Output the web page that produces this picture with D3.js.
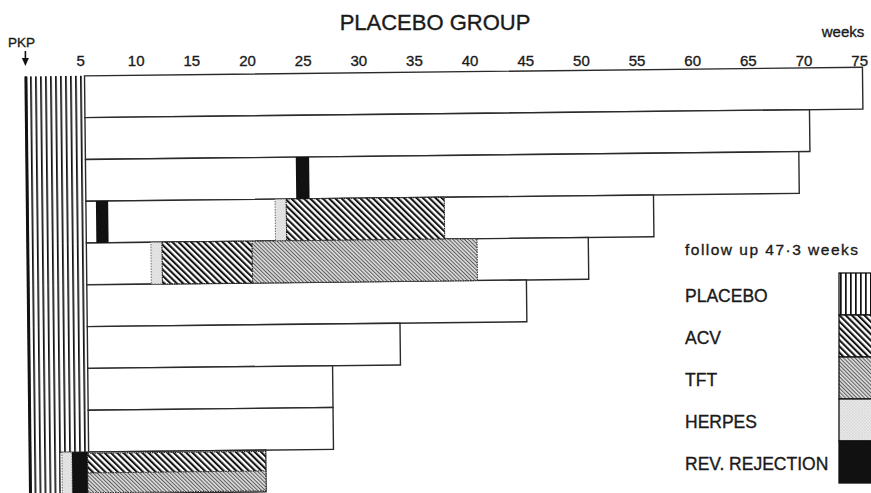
<!DOCTYPE html>
<html><head><meta charset="utf-8">
<script src="https://cdn.jsdelivr.net/npm/d3@7"></script>
<style>
body{margin:0;background:#fff}
svg{display:block}
text{font-family:"Liberation Sans",Arial,Helvetica,sans-serif;fill:#1a1a1a;stroke:#1a1a1a;stroke-width:0.35px}
</style>
</head><body><div id="chart"></div>
<script>
// ---------- data ----------
const title = "PLACEBO GROUP";
const axisUnit = "weeks";
const startLabel = "PKP";
const followUpNote = "follow up 47·3 weeks";
const patients = ["1","2","3","4","5","6","7","8","9","10"];
const followUp   = [75.3, 70.5, 69.5, 56.4, 50.5, 44.9, 33.5, 27.4, 27.4, 21.3];
const placeboEnd = [5.4, 5.4, 5.4, 5.4, 5.4, 5.4, 5.4, 5.4, 5.4, 2.8];
const weekTicks = [5,10,15,20,25,30,35,40,45,50,55,60,65,70,75];
// episodes: [patient, start week, end week, part of row]
const herpesEpisodes    = [["4",22.4,23.4,"full"],["5",11.2,12.2,"full"],["10",3.0,3.9,"full"]];
const acvEpisodes       = [["4",23.4,37.6,"full"],["5",12.2,20.3,"full"],["10",5.3,21.3,"top"]];
const tftEpisodes       = [["5",20.3,40.5,"full"],["10",5.3,21.3,"bottom"]];
const rejectionEpisodes = [["3",24.3,25.5,"full"],["4",6.3,7.4,"full"],["10",3.9,5.3,"full"]];
const legendLabels = ["PLACEBO","ACV","TFT","HERPES","REV. REJECTION"];
const legendKeys   = ["placebo","acv","tft","herpes","rejection"];

// ---------- setup ----------
const W = 871, H = 493;
const svg = d3.select("#chart").append("svg").attr("width", W).attr("height", H);
const x = d3.scaleLinear().domain([0, 75]).range([24.4, 24.4 + 75 * 11.13]);
const y = d3.scaleBand().domain(patients).range([76.5, 494.5]);
const bw = y.bandwidth();

const defs = svg.append("defs");
function stripePattern(id, w, lineW, bg, fg, rot){
  const p = defs.append("pattern").attr("id", id).attr("patternUnits","userSpaceOnUse")
    .attr("width", w).attr("height", 10);
  if (rot) p.attr("patternTransform", `rotate(${rot})`);
  p.append("rect").attr("width", w).attr("height", 10).attr("fill", bg);
  p.append("rect").attr("width", lineW).attr("height", 10).attr("fill", fg);
}
stripePattern("p-placebo", 5, 1.7, "#fff", "#111", 0);
stripePattern("p-acv", 4.4, 2.1, "#fff", "#151515", -45);
stripePattern("p-tft", 2.7, 1.0, "#dcdcdc", "#5c5c5c", -45);
const hp = defs.append("pattern").attr("id","p-herpes").attr("patternUnits","userSpaceOnUse")
  .attr("width",3).attr("height",3);
hp.append("rect").attr("width",3).attr("height",3).attr("fill","#e8e8e8");
hp.append("rect").attr("x",0.5).attr("y",0.5).attr("width",0.9).attr("height",0.9).attr("fill","#b4b4b4");
hp.append("rect").attr("x",2).attr("y",2).attr("width",0.7).attr("height",0.7).attr("fill","#c8c8c8");

const fills = {placebo:"url(#p-placebo)", acv:"url(#p-acv)", tft:"url(#p-tft)", herpes:"url(#p-herpes)", rejection:"#111"};

// ---------- bars (slightly skewed scan) ----------
const g = svg.append("g").attr("transform", `rotate(-0.63, ${x(0)}, ${y.range()[0]})`);

g.selectAll("rect.placebo").data(patients).join("rect").attr("class","placebo")
  .attr("x", x(0)).attr("y", d => y(d))
  .attr("width", (d,i) => x(placeboEnd[i]) - x(0)).attr("height", bw + 0.5)
  .attr("fill", fills.placebo);
g.append("rect").attr("x", x(0)).attr("y", y.range()[0])
  .attr("width", 3).attr("height", y.range()[1] - y.range()[0]).attr("fill", "#111");

g.selectAll("rect.row").data(patients).join("rect").attr("class","row")
  .attr("x", (d,i) => x(placeboEnd[i])).attr("y", d => y(d))
  .attr("width", (d,i) => x(followUp[i]) - x(placeboEnd[i])).attr("height", bw)
  .attr("fill", "#fff").attr("stroke", "#2a2a2a").attr("stroke-width", 1.4);

function episodes(data, key, stroke, dash){
  g.selectAll(`rect.ep-${key}`).data(data).join("rect").attr("class", `ep-${key}`)
    .attr("x", d => x(d[1]))
    .attr("y", d => y(d[0]) + (d[3] === "bottom" ? bw/2 : d[3] === "top" ? 1.3 : 0))
    .attr("width", d => x(d[2]) - x(d[1]))
    .attr("height", d => d[3] === "full" ? bw : bw/2 - 1)
    .attr("fill", fills[key])
    .attr("stroke", stroke).attr("stroke-width", stroke === "none" ? 0 : 1.1)
    .attr("stroke-dasharray", dash);
}
episodes(herpesEpisodes, "herpes", "#777", "1.5,1.2");
episodes(acvEpisodes, "acv", "#222", "1.5,0.8");
episodes(tftEpisodes, "tft", "#333", "1.5,1");
episodes(rejectionEpisodes, "rejection", "none", null);

// ---------- axis ----------
const ax = svg.append("g").attr("transform", "translate(0,66)")
  .call(d3.axisTop(x).tickValues(weekTicks).tickSize(0).tickPadding(0));
ax.select(".domain").remove();
ax.attr("font-family", null).attr("font-size", null);
ax.selectAll("text").attr("font-size", 15).attr("fill", "#1a1a1a");

svg.append("text").attr("x", 843).attr("y", 37).attr("text-anchor","middle")
  .attr("font-size", 15).text(axisUnit);
svg.append("text").attr("x", 435).attr("y", 30).attr("text-anchor","middle")
  .attr("font-size", 22).text(title);
svg.append("text").attr("x", x(0) - 3).attr("y", 47).attr("text-anchor","middle")
  .attr("font-size", 13.5).text(startLabel);
svg.append("line").attr("x1", x(0)+1).attr("x2", x(0)+1).attr("y1", 51).attr("y2", 60)
  .attr("stroke", "#111").attr("stroke-width", 1.6);
svg.append("path").attr("d", `M${x(0)-2.5},58 L${x(0)+4.5},58 L${x(0)+1},66 Z`).attr("fill", "#111");

// ---------- legend ----------
svg.append("text").attr("x", 685).attr("y", 255).attr("font-size", 15.5)
  .attr("textLength", 173).attr("lengthAdjust", "spacing").text(followUpNote);
const ly = d3.scaleBand().domain(legendKeys).range([273, 273 + 42 * legendKeys.length]);
const lg = svg.append("g");
lg.selectAll("rect").data(legendKeys).join("rect")
  .attr("x", 839).attr("y", d => ly(d)).attr("width", 40).attr("height", ly.bandwidth())
  .attr("fill", d => fills[d]).attr("stroke", "#111").attr("stroke-width", 1.3);
lg.selectAll("text").data(legendLabels).join("text")
  .attr("x", 685).attr("y", (d,i) => ly(legendKeys[i]) + ly.bandwidth()/2 + 8)
  .attr("font-size", 17.5).text(d => d);
</script>
</body></html>
